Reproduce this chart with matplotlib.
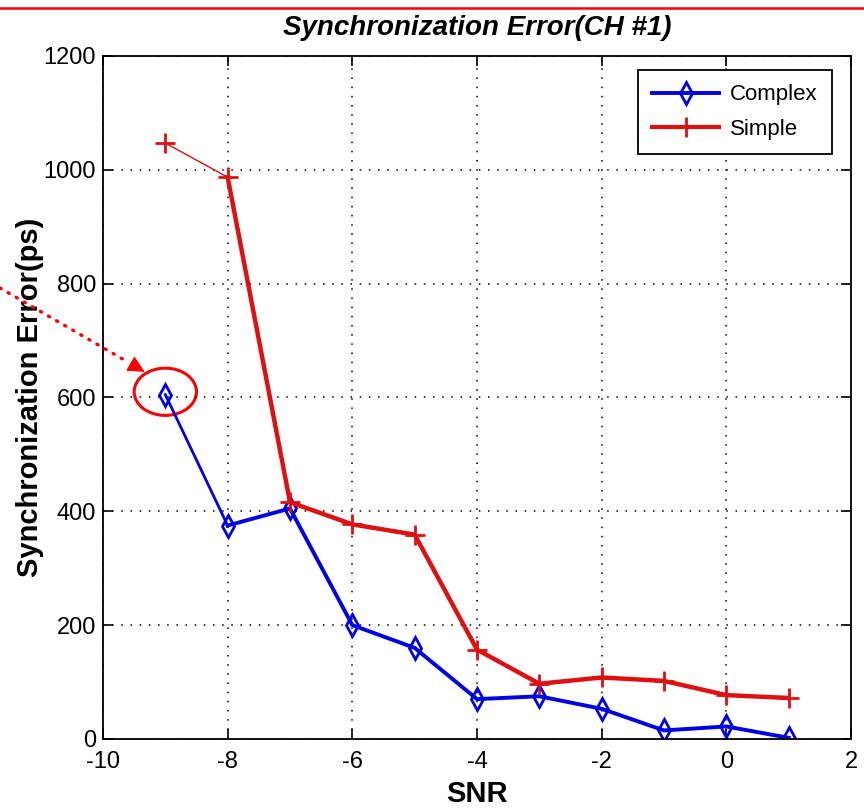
import matplotlib
matplotlib.use("Agg")
import matplotlib.pyplot as plt
from matplotlib.patches import Ellipse
from matplotlib.lines import Line2D

snr = [-9, -8, -7, -6, -5, -4, -3, -2, -1, 0, 1]
complex_err = [605, 375, 405, 200, 160, 70, 75, 53, 15, 22, 2]
simple_err = [1047, 987, 416, 377, 359, 157, 97, 108, 102, 77, 72]
xticks = [-10, -8, -6, -4, -2, 0, 2]
yticks = [0, 200, 400, 600, 800, 1000, 1200]

plt.rcParams['font.family'] = ['Liberation Sans', 'DejaVu Sans']

fig = plt.figure(figsize=(8.64, 8.1), dpi=100)
ax = fig.add_axes([0.1192, 0.0877, 0.8658, 0.8432])

blue = '#0000e6'
red = '#e01010'

# first segment is drawn thinner in the original
ax.plot(snr[:2], complex_err[:2], color=blue, lw=2.0)
ax.plot(snr[1:], complex_err[1:], color=blue, lw=2.8)
ax.plot(snr, complex_err, ls='none', marker='d', ms=11, mfc='none', mec=blue, mew=2.0)

ax.plot(snr[:2], simple_err[:2], color=red, lw=1.0)
ax.plot(snr[1:], simple_err[1:], color=red, lw=3.2)
ax.plot(snr, simple_err, ls='none', marker='+', ms=14, mec=red, mew=2.0)

ax.set_xlim(-10, 2)
ax.set_ylim(0, 1200)
ax.set_xticks(xticks)
ax.set_yticks(yticks)
ax.set_xticklabels([str(t) for t in xticks])
ax.grid(True, color='black', ls=(0, (1, 5)), lw=1.1)
ax.tick_params(direction='in', length=7, width=1.2, top=True, right=True,
               labelsize=17)
ax.tick_params(axis='x', pad=9)
ax.tick_params(axis='y', pad=5)
for s in ax.spines.values():
    s.set_linewidth(1.3)

ax.set_title('Synchronization Error(CH #1)', fontsize=20, fontweight='bold',
             style='italic', pad=15)
ax.set_xlabel('SNR', fontsize=21, fontweight='bold', labelpad=5)
ax.set_ylabel('Synchronization Error(ps)', fontsize=21, fontweight='bold', labelpad=0)

handles = [Line2D([], [], color=blue, lw=2.8, marker='d', ms=11, mfc='none', mec=blue, mew=2.0),
           Line2D([], [], color=red, lw=3.0, marker='+', ms=14, mec=red, mew=2.0)]
leg = ax.legend(handles, ['Complex', 'Simple'], loc='upper right', fontsize=16,
                fancybox=False, framealpha=1, edgecolor='black', handlelength=3.0,
                handletextpad=0.5, borderpad=0.65, labelspacing=0.6,
                borderaxespad=0, bbox_to_anchor=(0.9746, 0.9795))
leg.get_frame().set_linewidth(1.3)

# annotation: circle around the first Complex point and a dotted arrow
ax.add_patch(Ellipse((snr[0], 610), 1.0, 83, fill=False, ec='red', lw=2.2, clip_on=False))
tip = (-9.33, 645)
ax.annotate('', xy=tip, xycoords='data', xytext=(0, 1 - 288 / 810),
            textcoords='figure fraction',
            arrowprops=dict(arrowstyle='-', color='red', lw=2.4,
                            linestyle=(0, (0.4, 2.4)), capstyle='round',
                            shrinkA=0, shrinkB=14))
ax.annotate('', xy=tip, xycoords='data', xytext=(-14, 8), textcoords='offset pixels',
            arrowprops=dict(arrowstyle='-|>', color='red', lw=1, mutation_scale=26,
                            shrinkA=0, shrinkB=0))

# red rule at the top of the slide
fig.add_artist(Line2D([0, 1], [1 - 8 / 810, 1 - 8 / 810], color='red', lw=1.8))

fig.savefig('out.png', dpi=100)
